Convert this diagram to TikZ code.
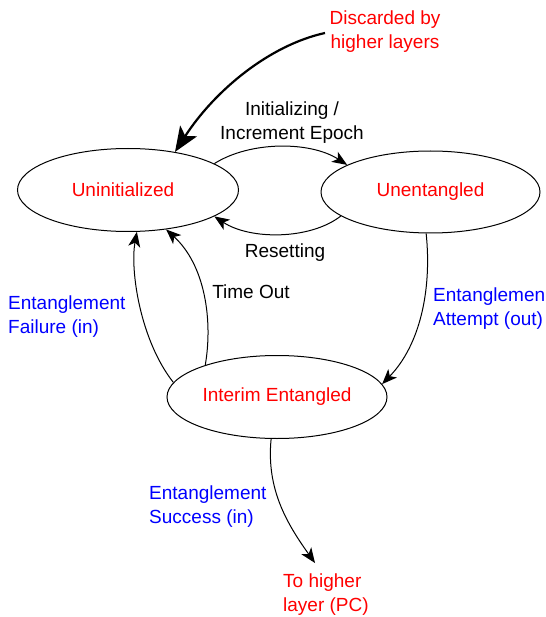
\documentclass[tikz,border=0pt]{standalone}
\usepackage{fontspec}
\setmainfont{Liberation Sans}
\usetikzlibrary{shapes.geometric,arrows.meta}
\definecolor{lblred}{RGB}{255,0,0}
\definecolor{lblblue}{RGB}{0,0,255}
\begin{document}
\begin{tikzpicture}[x=1pt,y=-1pt,
  state/.style={ellipse,draw,line width=1pt,inner sep=0pt,text=lblred,
    font=\fontsize{19}{24}\selectfont},
  lbl/.style={inner sep=0pt,font=\fontsize{19}{24}\selectfont},
  redlbl/.style={lbl,text=lblred},
  bluelbl/.style={lbl,text=lblblue},
  conn/.style={line width=1pt,-{Stealth[length=15pt,width=12pt,inset=4pt]}},
  thickconn/.style={line width=2.2pt,-{Stealth[length=25pt,width=20pt,inset=6pt]}}
]
\useasboundingbox (0,0) rectangle (545,617);

\node[state,minimum width=221pt,minimum height=83pt] (uninit) at (128,190) {\hspace*{-10pt}Uninitialized};
\node[state,minimum width=219pt,minimum height=82pt] (unent) at (430.5,192) {Unentangled};
\node[state,minimum width=220pt,minimum height=83pt] (interim) at (277,397) {Interim Entangled};

\node[redlbl,align=center] (disc) at (385,32) {Discarded by\\higher layers};
\node[redlbl,align=left,anchor=west] (tohigher) at (283,595) {To higher\\layer (PC)};
\node[lbl,align=center] (initlbl) at (292,123) {Initializing /\\Increment Epoch};
\node[lbl] (resetlbl) at (285,253) {Resetting};
\node[lbl] (timelbl) at (251,292) {Time Out};
\node[bluelbl,align=left,anchor=west] (faillbl) at (8,317) {Entanglement\\Failure (in)};
\node[bluelbl,align=left,anchor=west] (attlbl) at (433,309) {Entanglemen\\Attempt (out)};
\node[bluelbl,align=left,anchor=west] (succlbl) at (149,507) {Entanglement\\Success (in)};

\coordinate (discstart) at (325,33);
\coordinate (succend) at (315,563);

\draw[thickconn] (discstart) .. controls (270,45) and (215,90) .. (uninit.39);
\draw[conn] (uninit.17) .. controls (250,141) and (310,141) .. (unent.162);
\draw[conn] (unent.195) .. controls (310,240) and (250,240) .. (uninit.-17);
\draw[conn] (unent.-96) .. controls (432,290) and (420,345) .. (interim.7);
\draw[conn] (interim.172) .. controls (140,340) and (130,270) .. (uninit.-78);
\draw[conn] (interim.156) .. controls (213,320) and (205,265) .. (uninit.-46);
\draw[conn] (interim.-98) .. controls (266,490) and (288,525) .. (succend);
\end{tikzpicture}
\end{document}
